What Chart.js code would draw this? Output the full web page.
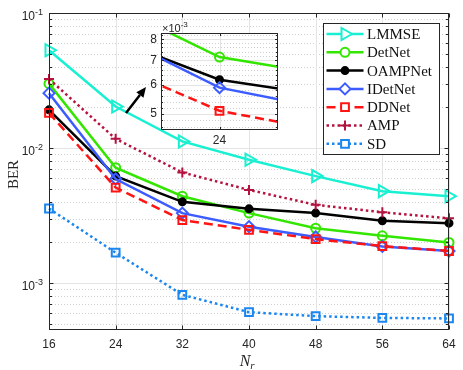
<!DOCTYPE html>
<html>
<head>
<meta charset="utf-8">
<script src="https://cdn.jsdelivr.net/npm/chart.js@4/dist/chart.umd.min.js"></script>
<style>
  html, body { margin: 0; padding: 0; background: #fff; }
  #wrap { position: relative; width: 463px; height: 370px; }
  #main { position: absolute; left: 0; top: 0; }
  #inset { position: absolute; left: 141px; top: 18px; }
</style>
</head>
<body>
<div id="wrap">
  <canvas id="main" width="463" height="370"></canvas>
  <canvas id="inset" width="146" height="128"></canvas>
</div>
<script>
// number of receive antennas
const nr = [16, 24, 32, 40, 48, 56, 64];

// BER per detector
const lmmse   = [0.053, 0.0203, 0.0112, 0.0082, 0.0062, 0.0048, 0.0044];
const detnet  = [0.030, 0.00715, 0.0044, 0.0033, 0.00255, 0.00224, 0.0020];
const oampnet = [0.0192, 0.0062, 0.0040, 0.00355, 0.0033, 0.0029, 0.00278];
const idetnet = [0.0255, 0.0059, 0.0033, 0.00262, 0.0022, 0.00187, 0.00173];
const ddnet   = [0.0182, 0.0051, 0.00293, 0.00248, 0.00212, 0.00188, 0.00173];
const amp     = [0.0325, 0.0117, 0.0066, 0.0049, 0.0038, 0.00335, 0.00302];
const sd      = [0.00357, 0.00168, 0.00082, 0.00061, 0.00057, 0.000553, 0.000548];

// axis ticks
const yDecades = [1e-3, 1e-2, 1e-1];
const yDecadeExp = ['-3', '-2', '-1'];
const yMinorMain = [5e-4, 6e-4, 7e-4, 8e-4, 9e-4,
  2e-3, 3e-3, 4e-3, 5e-3, 6e-3, 7e-3, 8e-3, 9e-3,
  2e-2, 3e-2, 4e-2, 5e-2, 6e-2, 7e-2, 8e-2, 9e-2];
const insetYTicks = [5e-3, 6e-3, 7e-3, 8e-3];
const insetYMinor = [4.6e-3, 4.8e-3, 5.2e-3, 5.4e-3, 5.6e-3, 5.8e-3, 6.2e-3, 6.4e-3, 6.6e-3, 6.8e-3,
  7.2e-3, 7.4e-3, 7.6e-3, 7.8e-3, 8.2e-3];
const insetXTicks = [24];

const series = [
  { label: 'LMMSE',   data: lmmse,   color: '#19F0D2', style: 'triangle', rot: 90, r: 7,   dash: [] },
  { label: 'DetNet',  data: detnet,  color: '#33E600', style: 'circle',   rot: 0,  r: 4.5, dash: [] },
  { label: 'OAMPNet', data: oampnet, color: '#000000', style: 'circle',   rot: 0,  r: 3.5, dash: [], filled: true },
  { label: 'IDetNet', data: idetnet, color: '#3D5CFF', style: 'rectRot',  rot: 0,  r: 5.5, dash: [] },
  { label: 'DDNet',   data: ddnet,   color: '#FF1414', style: 'rect',     rot: 0,  r: 5.5, dash: [9, 5] },
  { label: 'AMP',     data: amp,     color: '#B5133F', style: 'cross',    rot: 0,  r: 5,   dash: [2.5, 3] },
  { label: 'SD',      data: sd,      color: '#1A86EE', style: 'rect',     rot: 0,  r: 5.5, dash: [2.5, 3] }
];

const axisColor = '#262626';
const sans = "'Liberation Sans', Arial, sans-serif";
const serif = "'Liberation Serif', 'Times New Roman', serif";

function makeDatasets(clip) {
  return series.map((s, i) => ({
    label: s.label,
    data: nr.map((n, k) => ({ x: n, y: s.data[k] })),
    borderColor: s.color,
    backgroundColor: s.color,
    borderWidth: 2.5,
    borderDash: s.dash,
    pointStyle: s.style,
    pointRotation: s.rot,
    pointRadius: s.r,
    pointBorderWidth: 2,
    pointBorderColor: s.color,
    pointBackgroundColor: s.filled ? s.color : 'rgba(0,0,0,0)',
    tension: 0,
    clip: clip,
    order: series.length - i
  }));
}

function hline(ctx, x1, x2, y) { ctx.beginPath(); ctx.moveTo(x1, y); ctx.lineTo(x2, y); ctx.stroke(); }
function vline(ctx, x, y1, y2) { ctx.beginPath(); ctx.moveTo(x, y1); ctx.lineTo(x, y2); ctx.stroke(); }

// matlab style box, grid and inward ticks
function framePlugin(o) {
  return {
    id: 'frame',
    beforeDatasetsDraw(chart) {
      const { ctx, chartArea: a, scales: { x, y } } = chart;
      ctx.save();
      ctx.fillStyle = '#fff';
      ctx.fillRect(a.left, a.top, a.right - a.left, a.bottom - a.top);
      ctx.lineWidth = 1;
      ctx.strokeStyle = '#d0d0d0';
      ctx.setLineDash([1, 2]);
      o.yMinor.forEach(v => hline(ctx, a.left, a.right, Math.round(y.getPixelForValue(v)) + 0.5));
      ctx.setLineDash([]);
      ctx.strokeStyle = '#e4e4e4';
      o.yMajor.forEach(v => hline(ctx, a.left, a.right, Math.round(y.getPixelForValue(v)) + 0.5));
      o.xMajor.forEach(v => vline(ctx, Math.round(x.getPixelForValue(v)) + 0.5, a.top, a.bottom));
      ctx.restore();
    },
    afterDatasetsDraw(chart) {
      const { ctx, chartArea: a, scales: { x, y } } = chart;
      const L = Math.round(a.left) + 0.5, R = Math.round(a.right) - 0.5;
      const T = Math.round(a.top) + 0.5, B = Math.round(a.bottom) - 0.5;
      ctx.save();
      ctx.strokeStyle = axisColor;
      ctx.lineWidth = 1;
      ctx.strokeRect(L, T, R - L, B - T);
      o.yMajor.forEach(v => {
        const py = Math.round(y.getPixelForValue(v)) + 0.5;
        hline(ctx, L, L + o.tick, py); hline(ctx, R - o.tick, R, py);
      });
      o.yMinor.forEach(v => {
        const py = Math.round(y.getPixelForValue(v)) + 0.5;
        hline(ctx, L, L + o.minorTick, py); hline(ctx, R - o.minorTick, R, py);
      });
      o.xMajor.forEach(v => {
        const px = Math.round(x.getPixelForValue(v)) + 0.5;
        vline(ctx, px, B - o.tick, B); vline(ctx, px, T, T + o.tick);
      });
      ctx.restore();
    }
  };
}

function drawMarker(ctx, s, x, y) {
  ctx.save();
  ctx.setLineDash([]);
  ctx.strokeStyle = s.color;
  ctx.fillStyle = s.filled ? s.color : '#fff';
  ctx.lineWidth = 2;
  Chart.helpers.drawPoint(ctx, { pointStyle: s.style, rotation: s.rot, radius: s.r, borderWidth: 2 }, x, y);
  ctx.restore();
}

const decorPlugin = {
  id: 'decor',
  afterDatasetsDraw(chart) {
    const { ctx, chartArea: a, scales: { y } } = chart;
    ctx.save();
    // y tick labels 10^n
    ctx.fillStyle = axisColor;
    ctx.textBaseline = 'alphabetic';
    ctx.textAlign = 'left';
    yDecades.forEach((v, i) => {
      const py = y.getPixelForValue(v);
      ctx.font = '9px ' + sans;
      const w2 = ctx.measureText(yDecadeExp[i]).width;
      ctx.font = '12px ' + sans;
      const w1 = ctx.measureText('10').width;
      const xr = a.left - 6;
      ctx.fillText('10', xr - w2 - w1, py + 7);
      ctx.font = '9px ' + sans;
      ctx.fillText(yDecadeExp[i], xr - w2, py + 2);
    });
    // axis titles
    ctx.save();
    ctx.translate(14, (a.top + a.bottom) / 2 + 3);
    ctx.rotate(-Math.PI / 2);
    ctx.textAlign = 'center';
    ctx.textBaseline = 'middle';
    ctx.font = '15px ' + serif;
    ctx.fillText('BER', 0, 0);
    ctx.restore();
    ctx.font = 'italic 16px ' + serif;
    const wn = ctx.measureText('N').width;
    const cx = (a.left + a.right) / 2 - 4;
    ctx.fillText('N', cx - wn / 2, 366);
    ctx.font = 'italic 11px ' + serif;
    ctx.fillText('r', cx + wn / 2, 369);

    // arrow pointing to the zoomed region
    ctx.strokeStyle = '#000';
    ctx.fillStyle = '#000';
    ctx.lineWidth = 2.5;
    const x0 = 126, y0 = 113, x1 = 146, y1 = 87;
    const ang = Math.atan2(y1 - y0, x1 - x0);
    const hl = 10, hw = 4.5;
    const bx = x1 - hl * Math.cos(ang), by = y1 - hl * Math.sin(ang);
    ctx.beginPath(); ctx.moveTo(x0, y0); ctx.lineTo(bx, by); ctx.stroke();
    ctx.beginPath();
    ctx.moveTo(x1, y1);
    ctx.lineTo(bx + hw * Math.sin(ang), by - hw * Math.cos(ang));
    ctx.lineTo(bx - hw * Math.sin(ang), by + hw * Math.cos(ang));
    ctx.closePath(); ctx.fill();

    // legend
    const lx = 323.5, ly = 23.5, lw = 116, lh = 131;
    ctx.fillStyle = '#fff';
    ctx.fillRect(lx, ly, lw, lh);
    ctx.strokeStyle = axisColor;
    ctx.lineWidth = 1;
    ctx.strokeRect(lx, ly, lw, lh);
    series.forEach((s, i) => {
      const yy = 34 + i * 18.3;
      ctx.strokeStyle = s.color;
      ctx.lineWidth = 2.5;
      ctx.setLineDash(s.dash);
      hline(ctx, 326.5, 363.5, yy);
      ctx.setLineDash([]);
      drawMarker(ctx, s, 345, yy);
      ctx.fillStyle = '#111';
      ctx.font = '15px ' + serif;
      ctx.textBaseline = 'middle';
      ctx.textAlign = 'left';
      ctx.fillText(s.label, 367, yy + 1);
    });
    ctx.restore();
  }
};

new Chart(document.getElementById('main'), {
  type: 'line',
  data: { datasets: makeDatasets(false) },
  options: {
    responsive: false,
    animation: false,
    layout: { padding: { top: 13, right: 14, left: 0, bottom: 0 } },
    plugins: { legend: { display: false }, tooltip: { enabled: false } },
    scales: {
      x: {
        type: 'linear', min: 16, max: 64,
        ticks: { stepSize: 8, padding: 7, color: axisColor, font: { family: sans, size: 12 } },
        grid: { display: false, drawTicks: false },
        border: { display: false },
        afterFit(s) { s.height = 40; }
      },
      y: {
        type: 'logarithmic', min: 4.5e-4, max: 0.1,
        ticks: { display: false },
        grid: { display: false, drawTicks: false },
        border: { display: false },
        afterFit(s) { s.width = 49; }
      }
    }
  },
  plugins: [framePlugin({ xMajor: nr, yMajor: yDecades, yMinor: yMinorMain, tick: 4, minorTick: 2.5 }), decorPlugin]
});

const insetLabelPlugin = {
  id: 'insetLabel',
  afterDraw(chart) {
    const { ctx, chartArea: a } = chart;
    ctx.save();
    ctx.fillStyle = axisColor;
    ctx.textBaseline = 'alphabetic';
    ctx.font = '11px ' + sans;
    ctx.fillText('\u00d710', a.left + 1, a.top - 1);
    const w = ctx.measureText('\u00d710').width;
    ctx.font = '8px ' + sans;
    ctx.fillText('-3', a.left + 1 + w, a.top - 6);
    ctx.restore();
  }
};

new Chart(document.getElementById('inset'), {
  type: 'line',
  data: { datasets: makeDatasets(0) },
  options: {
    responsive: false,
    animation: false,
    layout: { padding: { top: 15, right: 4, left: 0, bottom: 0 } },
    plugins: { legend: { display: false }, tooltip: { enabled: false } },
    scales: {
      x: {
        type: 'linear', min: 23, max: 25,
        afterBuildTicks(s) { s.ticks = insetXTicks.map(v => ({ value: v })); },
        ticks: { padding: 3, color: axisColor, font: { family: sans, size: 12 } },
        grid: { display: false, drawTicks: false },
        border: { display: false },
        afterFit(s) { s.height = 16; }
      },
      y: {
        type: 'logarithmic', min: 4.52e-3, max: 8.32e-3,
        afterBuildTicks(s) { s.ticks = insetYTicks.map(v => ({ value: v })); },
        ticks: {
          padding: 4, color: axisColor, font: { family: sans, size: 12 },
          callback: v => String(Math.round(v * 1000))
        },
        grid: { display: false, drawTicks: false },
        border: { display: false },
        afterFit(s) { s.width = 20; }
      }
    }
  },
  plugins: [framePlugin({ xMajor: insetXTicks, yMajor: insetYTicks, yMinor: insetYMinor, tick: 2.5, minorTick: 1.5 }), insetLabelPlugin]
});
</script>
</body>
</html>
